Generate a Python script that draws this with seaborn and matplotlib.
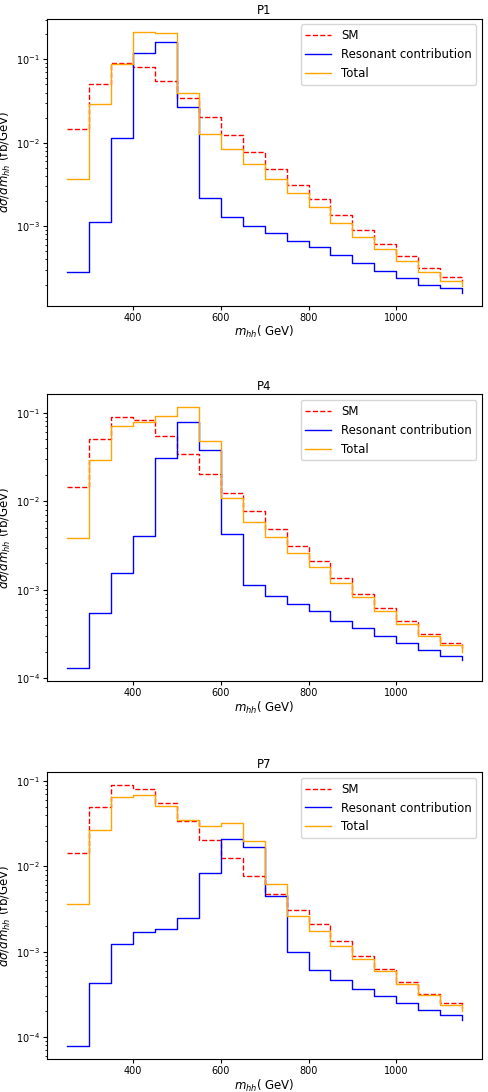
import matplotlib
matplotlib.use("Agg")
import matplotlib.pyplot as plt
import seaborn as sns
import numpy as np

edges = [250, 300, 350, 400, 450, 500, 550, 600, 650, 700, 750, 800, 850, 900, 950, 1000, 1050, 1100, 1150]
sm = [0.0145, 0.05, 0.09, 0.082, 0.055, 0.034, 0.0205, 0.0125, 0.0077, 0.0048, 0.0031, 0.0021, 0.00135, 0.0009, 0.00062, 0.00044, 0.00032, 0.00025, 0.00022]
p1_res = [0.00028, 0.00113, 0.0114, 0.118, 0.16, 0.027, 0.0022, 0.00128, 0.001, 0.00082, 0.00066, 0.00056, 0.00045, 0.00036, 0.00029, 0.00024, 0.0002, 0.00018, 0.00016]
p1_tot = [0.0037, 0.029, 0.088, 0.215, 0.205, 0.039, 0.0127, 0.0085, 0.0056, 0.0037, 0.0025, 0.0017, 0.0011, 0.00075, 0.00053, 0.00038, 0.00028, 0.00022, 0.00019]
p4_res = [0.00013, 0.00055, 0.00155, 0.0041, 0.031, 0.079, 0.038, 0.0043, 0.00113, 0.00085, 0.00069, 0.00058, 0.00045, 0.00037, 0.0003, 0.00025, 0.00021, 0.00018, 0.00016]
p4_tot = [0.0038, 0.029, 0.07, 0.078, 0.092, 0.115, 0.048, 0.011, 0.0059, 0.0039, 0.0026, 0.0018, 0.0012, 0.00082, 0.00057, 0.00041, 0.0003, 0.00024, 0.0002]
p7_res = [0.000078, 0.00043, 0.00122, 0.00172, 0.00187, 0.0025, 0.0084, 0.021, 0.017, 0.0045, 0.00098, 0.00061, 0.00046, 0.00037, 0.0003, 0.00025, 0.00021, 0.00018, 0.00016]
p7_tot = [0.0036, 0.027, 0.065, 0.068, 0.051, 0.035, 0.030, 0.032, 0.02, 0.0063, 0.0026, 0.00175, 0.00118, 0.00083, 0.00059, 0.00042, 0.00031, 0.00024, 0.0002]

panels = [("P1", p1_res, p1_tot), ("P4", p4_res, p4_tot), ("P7", p7_res, p7_tot)]
bottoms = [0.720, 0.376, 0.030]

fig = plt.figure(figsize=(4.89, 10.92), dpi=100)
for (title, res, tot), b in zip(panels, bottoms):
    ax = fig.add_axes([0.096, b, 0.89, 0.263])
    sns.lineplot(x=edges, y=sm, ax=ax, drawstyle="steps-post", color="red", linestyle="--", label="SM", linewidth=1.0)
    sns.lineplot(x=edges, y=res, ax=ax, drawstyle="steps-post", color="blue", label="Resonant contribution", linewidth=1.0)
    sns.lineplot(x=edges, y=tot, ax=ax, drawstyle="steps-post", color="orange", label="Total", linewidth=1.0)
    ax.set_yscale("log")
    ax.set_title(title, fontsize=8.5, pad=3)
    ax.set_xlabel(r"$m_{hh}$( GeV)", fontsize=8.5, labelpad=1)
    ax.set_ylabel(r"$d\sigma/dm_{hh}$ (fb/GeV)", fontsize=8.5, labelpad=2)
    ax.tick_params(labelsize=7, length=3, pad=2)
    ax.tick_params(which="minor", length=1.8)
    ax.set_xticks([400, 600, 800, 1000])
    ax.legend(loc="upper right", fontsize=8.5, handlelength=2.2)
fig.savefig("out.png", dpi=100)
